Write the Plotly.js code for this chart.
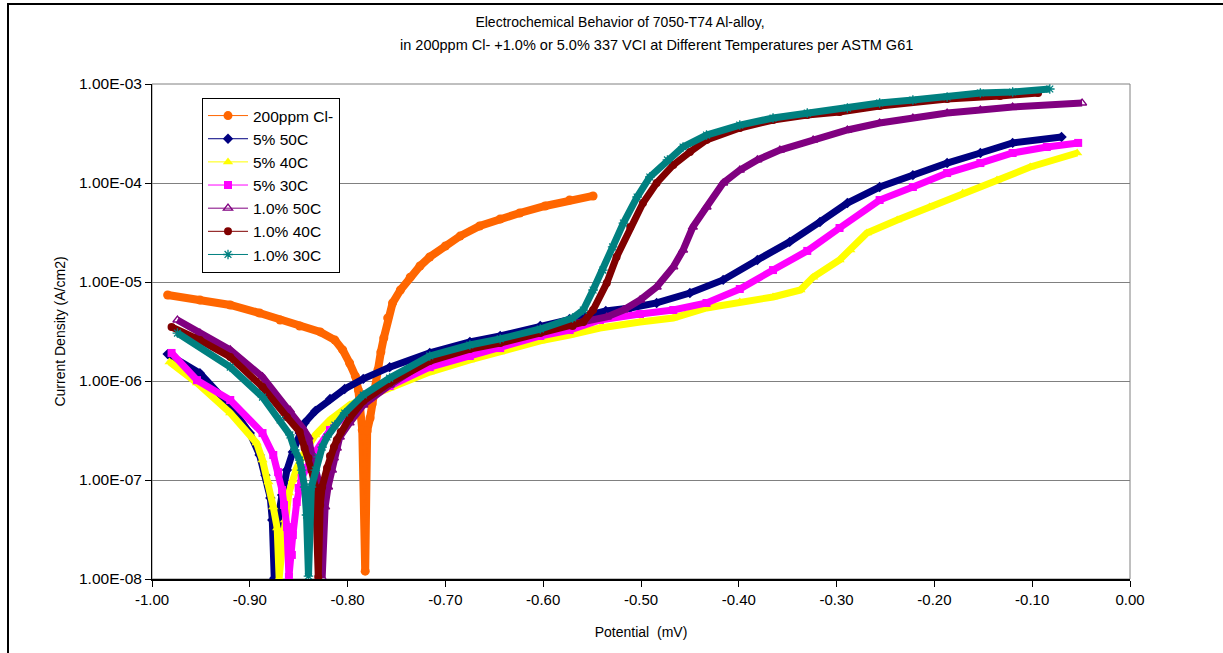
<!DOCTYPE html>
<html>
<head>
<meta charset="utf-8">
<script src="https://cdn.plot.ly/plotly-3.0.1.min.js"></script>
<style>
  html, body { margin: 0; padding: 0; background: #ffffff; }
  #chart { width: 1223px; height: 653px; }
</style>
</head>
<body>
<div id="chart"></div>
<script>
// ---------------- DATA ----------------
const seriesNames = ["200ppm Cl-", "5% 50C", "5% 40C", "5% 30C", "1.0% 50C", "1.0% 40C", "1.0% 30C"];

const potCl200 = [-0.984,-0.951,-0.920,-0.890,-0.869,-0.849,-0.828,-0.813,-0.805,-0.798,-0.792,-0.789,-0.785,-0.782,
  -0.780,-0.777,-0.775,-0.772,-0.769,-0.766,-0.763,-0.759,-0.754,-0.746,-0.736,-0.726,-0.716,-0.700,-0.685,-0.665,-0.644,-0.624,-0.598,-0.573,-0.549];
const curCl200 = [7.39e-6,6.58e-6,5.86e-6,4.86e-6,4.13e-6,3.59e-6,3.13e-6,2.59e-6,2.06e-6,1.52e-6,1.12e-6,8.11e-7,3.20e-7,1.20e-8,
  3.13e-7,4.23e-7,5.86e-7,8.30e-7,1.29e-6,1.96e-6,2.72e-6,4.33e-6,6.14e-6,8.30e-6,1.12e-5,1.45e-5,1.79e-5,2.31e-5,2.91e-5,3.68e-5,4.33e-5,4.98e-5,5.86e-5,6.73e-5,7.40e-5];

const pot5p50 = [-0.984,-0.951,-0.920,-0.900,-0.890,-0.884,-0.879,-0.877,-0.875,
  -0.872,-0.870,-0.867,-0.862,-0.856,-0.849,-0.844,-0.833,-0.818,-0.803,-0.784,-0.757,-0.716,-0.675,-0.644,-0.603,-0.573,
  -0.536,-0.511,-0.484,-0.450,-0.416,-0.381,-0.348,-0.317,-0.289,-0.256,-0.222,-0.187,-0.153,-0.120,-0.070];
const cur5p50 = [1.87e-6,1.20e-6,5.59e-7,2.98e-7,1.79e-7,1.12e-7,6.58e-8,3.94e-8,1.02e-8,
  2.06e-8,4.75e-8,7.06e-8,1.26e-7,1.92e-7,2.98e-7,3.77e-7,4.98e-7,6.58e-7,8.30e-7,1.05e-6,1.38e-6,1.92e-6,2.48e-6,2.85e-6,3.59e-6,4.23e-6,
  5.09e-6,5.46e-6,6.14e-6,7.74e-6,1.05e-5,1.67e-5,2.54e-5,4.04e-5,6.28e-5,9.11e-5,1.20e-4,1.59e-4,2.01e-4,2.54e-4,2.91e-4];

const pot5p40 = [-0.982,-0.954,-0.920,-0.893,-0.887,-0.881,-0.876,-0.872,-0.870,
  -0.867,-0.864,-0.860,-0.856,-0.852,-0.844,-0.833,-0.818,-0.798,-0.777,-0.757,-0.716,-0.675,-0.644,-0.603,-0.573,
  -0.542,-0.501,-0.467,-0.433,-0.399,-0.365,-0.337,-0.324,-0.297,-0.286,-0.269,-0.238,-0.205,-0.171,-0.136,-0.102,-0.054];
const cur5p40 = [1.56e-6,9.55e-7,4.75e-7,2.36e-7,1.59e-7,9.55e-8,5.34e-8,3.27e-8,1.02e-8,
  2.06e-8,3.94e-8,7.39e-8,1.00e-7,1.32e-7,1.92e-7,2.85e-7,4.04e-7,5.72e-7,7.06e-7,8.50e-7,1.23e-6,1.63e-6,1.96e-6,2.54e-6,2.91e-6,
  3.43e-6,3.94e-6,4.33e-6,5.46e-6,6.28e-6,7.06e-6,8.30e-6,1.12e-5,1.67e-5,2.10e-5,3.13e-5,4.23e-5,5.72e-5,7.92e-5,1.07e-4,1.45e-4,2.01e-4];

const pot5p30 = [-0.980,-0.954,-0.920,-0.887,-0.876,-0.871,-0.867,-0.865,-0.862,-0.860,
  -0.857,-0.856,-0.852,-0.850,-0.847,-0.842,-0.833,-0.818,-0.798,-0.777,-0.757,-0.716,-0.675,-0.644,-0.603,-0.573,
  -0.542,-0.501,-0.467,-0.433,-0.399,-0.365,-0.330,-0.297,-0.256,-0.222,-0.187,-0.153,-0.120,-0.085,-0.053];
const cur5p30 = [1.92e-6,1.02e-6,6.43e-7,2.98e-7,1.79e-7,1.20e-7,7.92e-8,5.59e-8,3.35e-8,1.05e-8,
  1.75e-8,2.78e-8,5.99e-8,8.30e-8,1.05e-7,1.32e-7,1.92e-7,3.20e-7,4.86e-7,6.73e-7,8.90e-7,1.38e-6,1.79e-6,2.15e-6,2.85e-6,3.27e-6,
  4.13e-6,4.75e-6,5.21e-6,6.14e-6,8.50e-6,1.32e-5,2.06e-5,3.51e-5,6.73e-5,9.11e-5,1.26e-4,1.59e-4,2.01e-4,2.31e-4,2.54e-4];

const pot1p50 = [-0.974,-0.951,-0.920,-0.887,-0.859,-0.846,-0.840,-0.837,-0.830,-0.828,-0.826,
  -0.823,-0.820,-0.816,-0.814,-0.811,-0.808,-0.798,-0.784,-0.757,-0.716,-0.675,-0.644,-0.603,-0.570,
  -0.535,-0.518,-0.501,-0.484,-0.467,-0.457,-0.447,-0.433,-0.416,-0.399,-0.381,-0.358,-0.324,-0.289,-0.256,-0.222,-0.187,-0.153,-0.120,-0.049];
const cur1p50 = [4.13e-6,3.05e-6,2.06e-6,1.10e-6,5.09e-7,3.35e-7,2.72e-7,1.87e-7,1.00e-7,5.59e-8,1.02e-8,
  5.34e-8,8.50e-8,1.26e-7,1.67e-7,2.10e-7,2.72e-7,3.77e-7,5.72e-7,9.11e-7,1.67e-6,2.20e-6,2.54e-6,3.20e-6,3.77e-6,
  4.43e-6,5.21e-6,6.58e-6,8.90e-6,1.42e-5,2.10e-5,3.59e-5,5.72e-5,1.00e-4,1.35e-4,1.71e-4,2.15e-4,2.72e-4,3.43e-4,4.04e-4,4.53e-4,5.09e-4,5.46e-4,5.85e-4,6.43e-4];

const pot1p40 = [-0.980,-0.951,-0.920,-0.887,-0.862,-0.849,-0.844,-0.840,-0.837,-0.833,-0.832,-0.830,
  -0.828,-0.826,-0.821,-0.818,-0.814,-0.811,-0.807,-0.798,-0.784,-0.757,-0.716,-0.675,-0.644,-0.603,-0.570,
  -0.559,-0.549,-0.535,-0.525,-0.511,-0.498,-0.484,-0.467,-0.450,-0.433,-0.399,-0.365,-0.330,-0.297,-0.256,-0.187,-0.133,-0.094];
const cur1p40 = [3.51e-6,2.59e-6,1.75e-6,8.70e-7,4.33e-7,3.05e-7,2.10e-7,1.67e-7,1.26e-7,8.50e-8,4.43e-8,1.05e-8,
  5.59e-8,8.50e-8,1.32e-7,1.75e-7,2.15e-7,2.54e-7,3.05e-7,4.23e-7,6.28e-7,9.55e-7,1.59e-6,2.10e-6,2.42e-6,3.05e-6,3.59e-6,
  3.94e-6,5.21e-6,9.77e-6,1.79e-5,3.59e-5,6.28e-5,1.00e-4,1.52e-4,2.06e-4,2.72e-4,3.59e-4,4.33e-4,4.86e-4,5.21e-4,5.99e-4,7.06e-4,7.56e-4,8.11e-4];

const pot1p30 = [-0.974,-0.920,-0.887,-0.869,-0.859,-0.854,-0.849,-0.847,-0.844,-0.842,-0.840,
  -0.837,-0.833,-0.830,-0.826,-0.821,-0.813,-0.803,-0.784,-0.757,-0.716,-0.675,-0.644,-0.603,-0.570,
  -0.559,-0.549,-0.539,-0.529,-0.518,-0.504,-0.491,-0.473,-0.457,-0.433,-0.399,-0.365,-0.330,-0.289,-0.256,-0.222,-0.187,-0.153,-0.120,-0.082];
const cur1p30 = [3.05e-6,1.38e-6,6.89e-7,4.04e-7,2.85e-7,2.01e-7,1.59e-7,1.26e-7,8.50e-8,4.43e-8,1.07e-8,
  8.50e-8,1.26e-7,1.71e-7,2.15e-7,2.72e-7,3.59e-7,4.75e-7,7.22e-7,1.07e-6,1.79e-6,2.31e-6,2.66e-6,3.35e-6,4.33e-6,
  5.21e-6,8.30e-6,1.32e-5,2.26e-5,3.94e-5,7.22e-5,1.15e-4,1.71e-4,2.31e-4,3.05e-4,3.85e-4,4.53e-4,5.09e-4,5.72e-4,6.43e-4,6.89e-4,7.39e-4,8.11e-4,8.30e-4,8.90e-4];

const xTickVals = [-1.0,-0.9,-0.8,-0.7,-0.6,-0.5,-0.4,-0.3,-0.2,-0.1,0.0];
const xTickText = ["-1.00","-0.90","-0.80","-0.70","-0.60","-0.50","-0.40","-0.30","-0.20","-0.10","0.00"];
const yTickVals = [1e-8,1e-7,1e-6,1e-5,1e-4,1e-3];
const yTickText = ["1.00E-08","1.00E-07","1.00E-06","1.00E-05","1.00E-04","1.00E-03"];

const titleLine1 = "Electrochemical Behavior of 7050-T74 Al-alloy,";
const titleLine2 = "in 200ppm Cl- +1.0% or 5.0% 337 VCI at Different Temperatures per ASTM G61";
const xTitle = "Potential  (mV)";
const yTitle = "Current Density (A/cm2)";

// ---------------- STYLES ----------------
const seriesX = [potCl200, pot5p50, pot5p40, pot5p30, pot1p50, pot1p40, pot1p30];
const seriesY = [curCl200, cur5p50, cur5p40, cur5p30, cur1p50, cur1p40, cur1p30];
const styles = [
  {color: "#FF6600", symbol: "circle", size: 9, band: 8, open: false},
  {color: "#000080", symbol: "diamond", size: 8, band: 7, open: false},
  {color: "#FFFF00", symbol: "triangle-up", size: 9, band: 7, open: false},
  {color: "#FF00FF", symbol: "square", size: 8, band: 7, open: false},
  {color: "#800080", symbol: "triangle-up-open", size: 8, band: 7, open: true},
  {color: "#800000", symbol: "circle", size: 8, band: 7, open: false},
  {color: "#008080", symbol: "asterisk-open", size: 8, band: 7, open: true}
];

const FONT = "Arial, 'Liberation Sans', sans-serif";
const traces = [];
for (let i = 0; i < seriesNames.length; i++) {
  const s = styles[i];
  traces.push({
    x: seriesX[i], y: seriesY[i], type: "scatter", mode: "lines",
    line: {color: s.color, width: s.band},
    showlegend: false, hoverinfo: "skip"
  });
  traces.push({
    x: seriesX[i], y: seriesY[i], type: "scatter", mode: "lines+markers",
    name: seriesNames[i],
    line: {color: s.color, width: 1},
    marker: {symbol: s.symbol, size: s.size, color: s.color,
             line: {color: s.color, width: s.open ? 1.3 : 0}}
  });
}

const layout = {
  width: 1223, height: 653,
  margin: {l: 152, r: 93, t: 84, b: 74},
  paper_bgcolor: "#ffffff", plot_bgcolor: "#ffffff",
  font: {family: FONT, color: "#000000"},
  title: {
    text: titleLine1,
    font: {family: FONT, size: 14, color: "#000000"},
    xref: "container", yref: "container",
    x: 620 / 1223, xanchor: "center",
    y: 1 - 22 / 653, yanchor: "middle"
  },
  annotations: [{
    text: titleLine2, showarrow: false,
    xref: "paper", yref: "paper",
    x: (656 - 152) / 978, y: (579 - 45) / 495,
    xanchor: "center", yanchor: "middle",
    font: {family: FONT, size: 14.5, color: "#000000"}
  }],
  xaxis: {
    range: [-1, 0], tickvals: xTickVals, ticktext: xTickText,
    ticks: "outside", ticklen: 6, tickcolor: "#000000", tickwidth: 1,
    showline: true, linecolor: "#000000", linewidth: 2,
    showgrid: false, zeroline: false,
    tickfont: {family: FONT, size: 15, color: "#000000"},
    title: {text: xTitle, font: {family: FONT, size: 14, color: "#000000"}, standoff: 20}
  },
  yaxis: {
    type: "log", range: [-8, -3], tickvals: yTickVals, ticktext: yTickText,
    ticks: "outside", ticklen: 6, tickcolor: "#000000", tickwidth: 1,
    showline: true, linecolor: "#000000", linewidth: 1,
    showgrid: true, gridcolor: "#808080", gridwidth: 1,
    zeroline: false,
    tickfont: {family: FONT, size: 15.5, color: "#000000"},
    title: {text: yTitle, font: {family: FONT, size: 14, color: "#000000"}, standoff: 10}
  },
  legend: {
    x: (202 - 152) / 978, y: (579 - 98) / 495, xanchor: "left", yanchor: "top",
    bgcolor: "#ffffff", bordercolor: "#000000", borderwidth: 1,
    font: {family: FONT, size: 15.5, color: "#000000"},
    tracegroupgap: 0, itemwidth: 40, entrywidth: 125
  },
  shapes: [
    {type: "rect", xref: "paper", yref: "paper", x0: 0, x1: 1, y0: 0, y1: 1,
     line: {color: "#808080", width: 1}, layer: "below"},
    {type: "rect", xref: "paper", yref: "paper",
     x0: (8 - 152) / 978, x1: (1240 - 152) / 978, y0: (579 - 670) / 495, y1: (579 - 4) / 495,
     line: {color: "#000000", width: 2}, fillcolor: "rgba(0,0,0,0)", layer: "above"}
  ]
};

Plotly.newPlot("chart", traces, layout, {staticPlot: true, displayModeBar: false});
</script>
</body>
</html>
